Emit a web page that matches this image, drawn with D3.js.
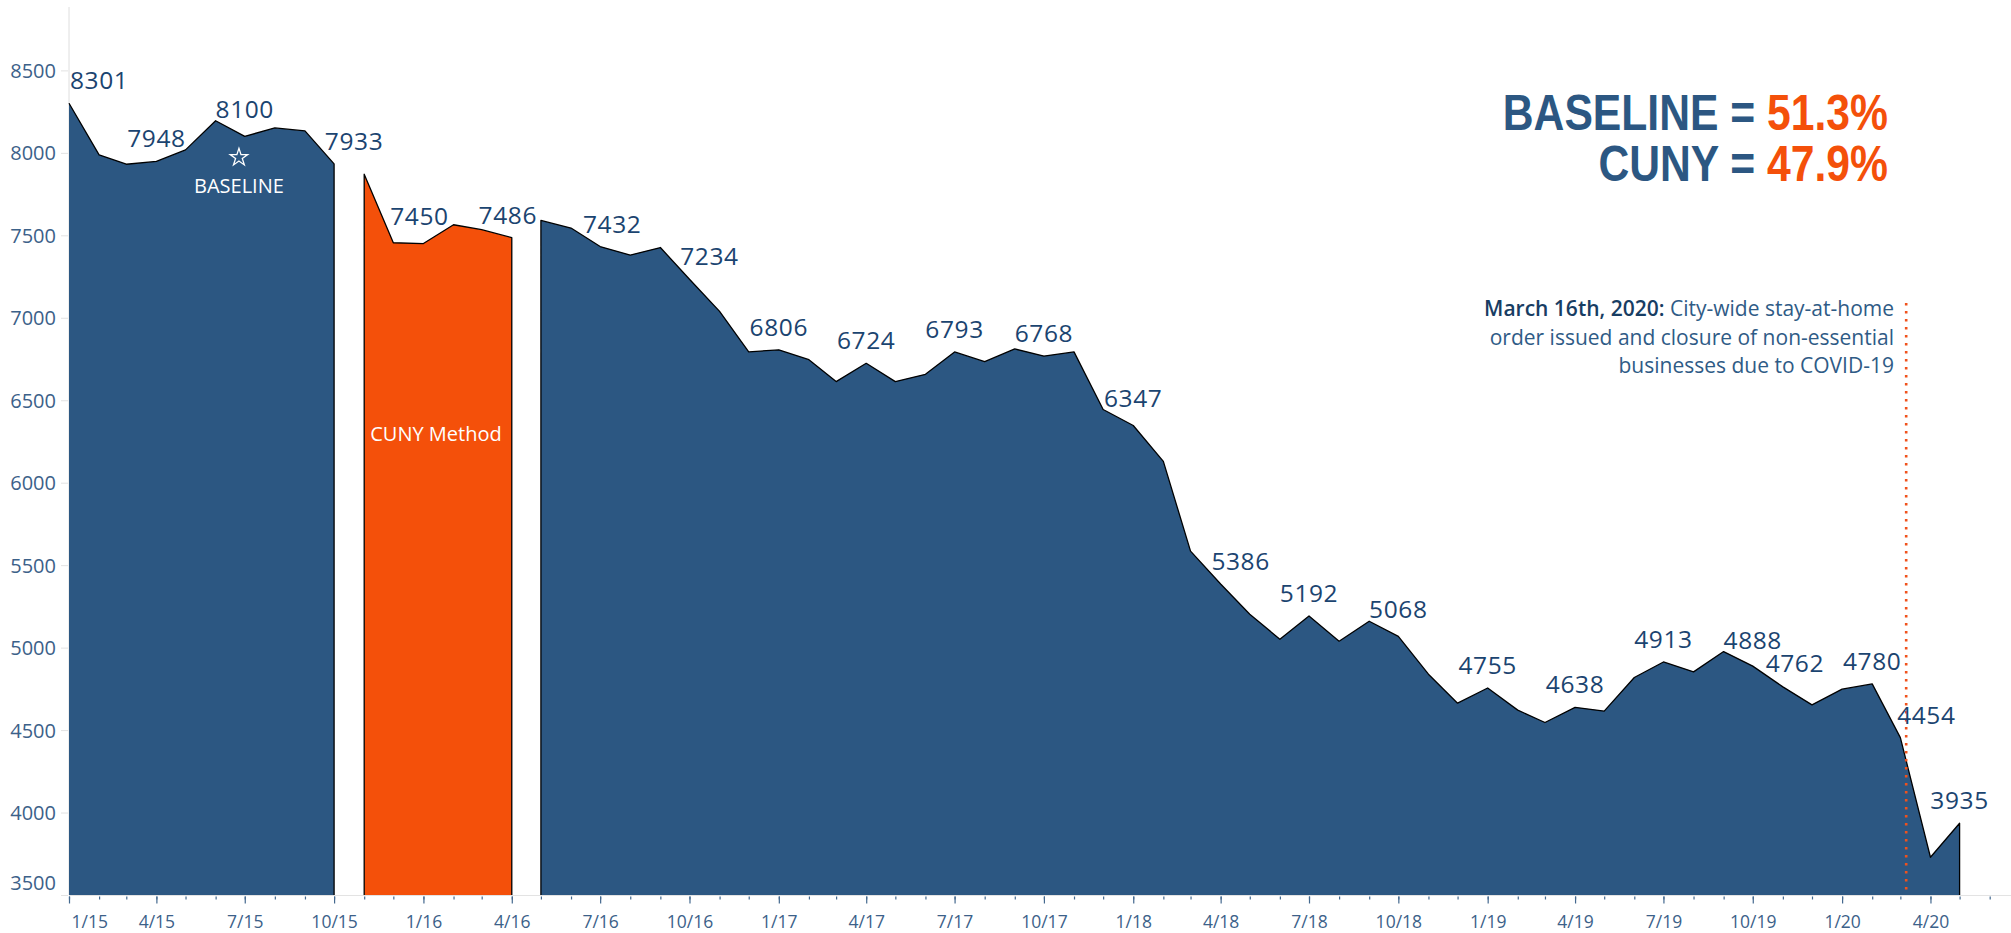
<!DOCTYPE html>
<html lang="en">
<head>
  <meta charset="UTF-8">
  <title>Monthly count, 2015-2020</title>
  <script src="https://d3js.org/d3.v7.min.js"></script>
  <style>
    * { margin: 0; padding: 0; box-sizing: border-box; }
    body { background: #fff; font-family: 'Open Sans', sans-serif; }
    svg { display: block; }
  </style>
</head>
<body>
  <svg id="chart"></svg>

  <script>
    // monthly values, Jan 2015 - May 2020
    const months = [
      "1/15","2/15","3/15","4/15","5/15","6/15","7/15","8/15","9/15","10/15","11/15","12/15",
      "1/16","2/16","3/16","4/16","5/16","6/16","7/16","8/16","9/16","10/16","11/16","12/16",
      "1/17","2/17","3/17","4/17","5/17","6/17","7/17","8/17","9/17","10/17","11/17","12/17",
      "1/18","2/18","3/18","4/18","5/18","6/18","7/18","8/18","9/18","10/18","11/18","12/18",
      "1/19","2/19","3/19","4/19","5/19","6/19","7/19","8/19","9/19","10/19","11/19","12/19",
      "1/20","2/20","3/20","4/20","5/20"
    ];
    const counts = [
      8301, 7988, 7931, 7948, 8018, 8195, 8100, 8151, 8133, 7933, 7871, 7455,
      7450, 7564, 7534, 7486, 7590, 7544, 7432, 7380, 7426, 7234, 7039, 6793,
      6806, 6746, 6613, 6724, 6613, 6657, 6793, 6734, 6811, 6768, 6793, 6444,
      6347, 6129, 5585, 5386, 5202, 5051, 5192, 5039, 5160, 5068, 4839, 4663,
      4755, 4621, 4546, 4638, 4615, 4819, 4913, 4853, 4976, 4888, 4762, 4653,
      4748, 4780, 4454, 3729, 3935
    ];

    // which method covers which months
    const segmentStarts  = ["1/15", "11/15", "5/16"];
    const segmentEnds    = ["10/15", "4/16", "5/20"];
    const segmentMethods = ["baseline", "cuny", "baseline"];

    const labeledMonths = ["1/15","4/15","7/15","10/15","1/16","4/16","7/16","10/16",
      "1/17","4/17","7/17","10/17","1/18","4/18","7/18","10/18","1/19","4/19","7/19",
      "10/19","11/19","2/20","3/20","5/20"];

    const yTicks = [3500, 4000, 4500, 5000, 5500, 6000, 6500, 7000, 7500, 8000, 8500];
    const quarterLabels = ["1/15","4/15","7/15","10/15","1/16","4/16","7/16","10/16",
      "1/17","4/17","7/17","10/17","1/18","4/18","7/18","10/18","1/19","4/19","7/19",
      "10/19","1/20","4/20"];

    const baselinePct = "51.3%";
    const cunyPct = "47.9%";
    const noteBold = "March 16th, 2020:";
    const noteLines = [" City-wide stay-at-home", "order issued and closure of non-essential",
      "businesses due to COVID-19"];

    const W = 2011, H = 933;
    const plotLeft = 69, plotTop = 7, plotBottom = 895;
    const BLUE = "#2c5782", ORANGE = "#f4500a", LABEL = "#1b4470", AXIS = "#3c6189";
    const FONT = "'Open Sans', sans-serif";

    const svg = d3.select("#chart").attr("width", W).attr("height", H);

    const parse = d3.timeParse("%m/%y");
    const data = months.map((m, i) => ({ month: m, date: parse(m), value: counts[i] }));

    const x = d3.scaleTime()
      .domain([parse("1/15"), new Date(2020, 5, 25)])
      .range([plotLeft, 2013]);
    const y = d3.scaleLinear()
      .domain([3500, 8500])
      .range([plotBottom, 70.4]);

    const segments = segmentStarts.map((s, i) => ({
      method: segmentMethods[i],
      points: data.slice(months.indexOf(s), months.indexOf(segmentEnds[i]) + 1)
    }));

    // light axis lines
    svg.append("line")
      .attr("x1", plotLeft).attr("x2", plotLeft)
      .attr("y1", plotTop).attr("y2", plotBottom)
      .attr("stroke", "#dedede");
    svg.append("line")
      .attr("x1", plotLeft).attr("x2", W)
      .attr("y1", plotBottom + 0.5).attr("y2", plotBottom + 0.5)
      .attr("stroke", "#e3e3e3");

    // areas
    const area = d3.area()
      .x(d => x(d.date))
      .y0(plotBottom)
      .y1(d => y(d.value));

    svg.append("g").selectAll("path")
      .data(segments)
      .join("path")
      .attr("d", d => area(d.points))
      .attr("fill", d => d.method === "cuny" ? ORANGE : BLUE);

    // black outline: top edge plus the vertical sides
    const outline = d3.line();
    svg.append("g").selectAll("path")
      .data(segments)
      .join("path")
      .attr("d", d => {
        const p = d.points.map(v => [x(v.date), y(v.value)]);
        const first = p[0], last = p[p.length - 1];
        const pts = (first[0] > plotLeft + 1 ? [[first[0], plotBottom]] : [])
          .concat(p, [[last[0], plotBottom]]);
        return outline(pts);
      })
      .attr("fill", "none")
      .attr("stroke", "#000")
      .attr("stroke-width", 1.3)
      .attr("stroke-linejoin", "round");

    // y axis
    const yAxis = svg.append("g")
      .attr("transform", `translate(${plotLeft - 1},0)`)
      .call(d3.axisLeft(y).tickValues(yTicks).tickSize(7).tickPadding(5).tickFormat(d3.format("d")));
    yAxis.select(".domain").remove();
    yAxis.selectAll(".tick line").attr("stroke", "#e2e2e2");
    yAxis.selectAll(".tick text")
      .style("font-family", FONT).style("font-size", "20px")
      .attr("fill", AXIS)
      .attr("dy", d => y(d) + 8 > plotBottom ? "-0.3em" : "0.35em");

    // x axis: monthly minor ticks, quarterly labelled ticks
    const xMinor = svg.append("g")
      .attr("transform", `translate(0,${plotBottom + 1.5})`)
      .call(d3.axisBottom(x).ticks(d3.timeMonth.every(1)).tickSize(3).tickFormat(""));
    xMinor.select(".domain").remove();
    xMinor.selectAll(".tick line").attr("stroke", "#44698f").attr("stroke-width", 1.2);

    const xMajor = svg.append("g")
      .attr("transform", `translate(0,${plotBottom + 1.5})`)
      .call(d3.axisBottom(x)
        .tickValues(quarterLabels.map(parse))
        .tickSize(7).tickPadding(12)
        .tickFormat((d, i) => quarterLabels[i]));
    xMajor.select(".domain").remove();
    xMajor.selectAll(".tick line").attr("stroke", "#44698f").attr("stroke-width", 1.2);
    xMajor.selectAll(".tick text")
      .style("font-family", FONT).style("font-size", "17.5px")
      .attr("fill", AXIS)
      .each(function(d) {
        const w = this.getComputedTextLength();
        const left = x(d) - w / 2;
        if (left < plotLeft + 2) d3.select(this).attr("dx", plotLeft + 2 - left);
      });

    // event reference line
    svg.append("line")
      .attr("x1", x(new Date(2020, 2, 7))).attr("x2", x(new Date(2020, 2, 7)))
      .attr("y1", 303).attr("y2", plotBottom)
      .attr("stroke", "#f0521c")
      .attr("stroke-width", 2.6)
      .attr("stroke-dasharray", "2.6,5.4");

    // value labels, nudged sideways until they sit clear of the line
    function lineMin(x0, x1) {
      let m = Infinity;
      segments.forEach(s => {
        const p = s.points.map(v => [x(v.date), y(v.value)]);
        for (let i = 0; i < p.length - 1; i++) {
          const [ax, ay] = p[i], [bx, by] = p[i + 1];
          if (bx < x0 || ax > x1) continue;
          const cx0 = Math.max(ax, x0), cx1 = Math.min(bx, x1);
          const f = t => ay + (by - ay) * (t - ax) / (bx - ax);
          m = Math.min(m, f(cx0), f(cx1));
        }
      });
      return m;
    }

    const shifts = [0, 4, -4, 8, -8, 12, -12, 16, -16, 20, -20, 26, -26, 32, -32, 38, -38];
    const placed = [];
    const labelG = svg.append("g");
    data.filter(d => labeledMonths.includes(d.month)).forEach(d => {
      const t = labelG.append("text")
        .text(d.value)
        .style("font-family", FONT).style("font-size", "24.5px")
        .style("letter-spacing", "0.6px")
        .attr("fill", LABEL);
      const w = t.node().getComputedTextLength();
      const px = x(d.date), py = y(d.value);
      let best = null;
      shifts.forEach(dx => {
        let left = Math.max(plotLeft + 1, Math.min(px + dx - w / 2, W - 8 - w));
        const real = left + w / 2 - px;
        const base = Math.min(py - 14, lineMin(left, left + w) - 3);
        const box = { x0: left, x1: left + w, y0: base - 18, y1: base };
        if (placed.some(b => b.x0 < box.x1 && box.x0 < b.x1 && b.y0 < box.y1 && box.y0 < b.y1)) return;
        const score = base - 0.6 * Math.abs(real);
        if (!best || score > best.score) best = { left, base, box, score };
      });
      placed.push(best.box);
      t.attr("x", best.left).attr("y", best.base);
    });

    // in-chart annotations
    svg.append("path")
      .attr("d", d3.symbol(d3.symbolStar, 95)())
      .attr("transform", `translate(${x(new Date(2015, 5, 25))},${y(7972)})`)
      .attr("fill", "none")
      .attr("stroke", "#fff")
      .attr("stroke-width", 1.3);
    svg.append("text")
      .attr("x", x(new Date(2015, 5, 25)))
      .attr("y", y(7757))
      .attr("text-anchor", "middle")
      .style("font-family", FONT).style("font-size", "20px")
      .attr("fill", "#fff")
      .text("BASELINE");

    const cunySeg = segments.find(s => s.method === "cuny").points;
    svg.append("text")
      .attr("x", (x(cunySeg[0].date) + x(cunySeg[cunySeg.length - 1].date)) / 2 - 2)
      .attr("y", y(6250))
      .attr("text-anchor", "middle")
      .style("font-family", FONT).style("font-size", "20px")
      .attr("fill", "#fff")
      .text("CUNY Method");

    // headline
    const head = svg.append("g").attr("transform", "translate(1888,0)");
    [["BASELINE = ", baselinePct, 130], ["CUNY = ", cunyPct, 181]].forEach(r => {
      const t = head.append("text")
        .attr("transform", `translate(0,${r[2]}) scale(0.853,1)`)
        .attr("text-anchor", "end")
        .style("font-family", "'Liberation Sans', Arial, sans-serif")
        .style("font-size", "50px")
        .style("font-weight", "bold");
      t.append("tspan").attr("fill", BLUE).text(r[0]);
      t.append("tspan").attr("fill", ORANGE).text(r[1]);
    });

    // event note
    const note = svg.append("g")
      .attr("text-anchor", "end")
      .style("font-family", FONT)
      .style("font-size", "21px");
    const first = note.append("text").attr("x", 1894).attr("y", 316);
    first.append("tspan").attr("fill", "#183d63").style("font-weight", "600").text(noteBold);
    first.append("tspan").attr("fill", "#2f5b86").text(noteLines[0]);
    noteLines.slice(1).forEach((l, i) => {
      note.append("text")
        .attr("x", 1894).attr("y", 344.5 + i * 28.5)
        .attr("fill", "#2f5b86")
        .text(l);
    });
  </script>
</body>
</html>
